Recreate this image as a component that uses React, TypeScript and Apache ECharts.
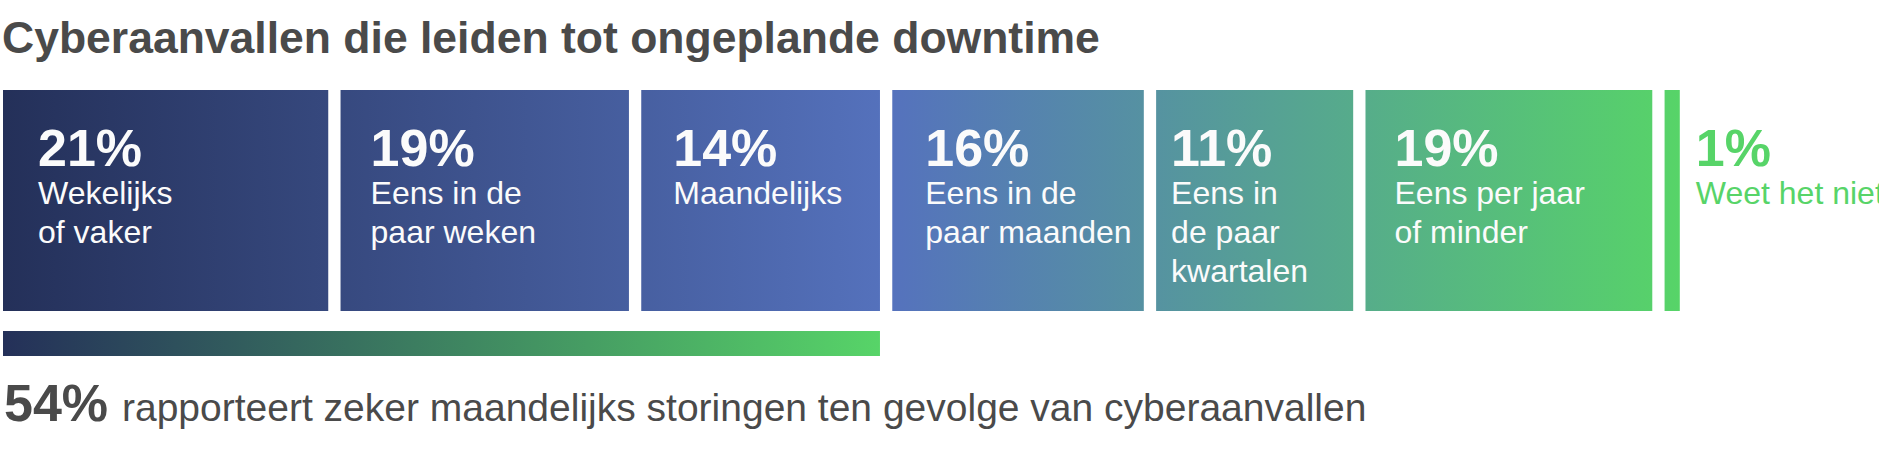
import React, { useEffect, useRef } from 'react';
import * as echarts from 'echarts';

const title = 'Cyberaanvallen die leiden tot ongeplande downtime';
const percents = [21, 19, 14, 16, 11, 19, 1];
// breedte van elk blok zoals in de afbeelding (aandeel van het geheel)
const blockShare = [20.3, 18.0, 14.9, 15.7, 12.3, 17.9, 0.95];
const labels = [
  'Wekelijks\nof vaker',
  'Eens in de\npaar weken',
  'Maandelijks',
  'Eens in de\npaar maanden',
  'Eens in\nde paar\nkwartalen',
  'Eens per jaar\nof minder',
  'Weet het niet',
];
const monthlyCount = 3; // wekelijks t/m maandelijks
const summaryText = 'rapporteert zeker maandelijks storingen ten gevolge van cyberaanvallen';

const FONT = '"Liberation Sans", Arial, Helvetica, sans-serif';
const GAP = 12.3;
const INSETS = [35, 30, 32, 33, 15, 29, 16];
const NAVY = '#243059';
const BLUE = '#5572bd';
const GREEN = '#57d468';
const GREY = '#4a4a4a';

const starts: number[] = [];
blockShare.reduce((acc, v, i) => {
  starts[i] = acc;
  return acc + v;
}, 0);
const total = blockShare.reduce((a, b) => a + b, 0);

const App = () => {
  const chartRef = useRef<HTMLDivElement>(null);

  useEffect(() => {
    if (!chartRef.current) return;
    const chart = echarts.init(chartRef.current, null, { renderer: 'svg' });

    const blocks = percents.map((p, i) => [starts[i], starts[i] + blockShare[i], p, i]);
    const monthlySum = percents.slice(0, monthlyCount).reduce((a, b) => a + b, 0);

    const option = {
      animation: false,
      title: {
        text: title,
        left: 2,
        top: 15,
        padding: 0,
        textStyle: { fontSize: 44.5, fontWeight: 'bold', color: GREY, fontFamily: FONT, lineHeight: 44 },
      },
      grid: [
        { left: 3, top: 90, width: 1603, height: 221 },
        { left: 3, top: 331, width: 1603, height: 25 },
      ],
      xAxis: [
        { gridIndex: 0, type: 'value', min: 0, max: total, show: false },
        { gridIndex: 1, type: 'value', min: 0, max: total, show: false },
      ],
      yAxis: [
        { gridIndex: 0, type: 'value', min: 0, max: 1, show: false },
        { gridIndex: 1, type: 'value', min: 0, max: 1, show: false },
      ],
      series: [
        {
          type: 'custom',
          xAxisIndex: 0,
          yAxisIndex: 0,
          data: blocks,
          encode: { x: [0, 1] },
          renderItem: (params: any, api: any) => {
            const i = params.dataIndex;
            const cs = params.coordSys;
            const x0 = api.coord([api.value(0), 0])[0] + i * GAP;
            const x1 = api.coord([api.value(1), 0])[0] + i * GAP;
            const gx0 = api.coord([0, 0])[0];
            const gx1 = api.coord([total, 0])[0] + (percents.length - 1) * GAP;
            const fill = new echarts.graphic.LinearGradient(
              gx0, 0, gx1, 0,
              [
                { offset: 0, color: NAVY },
                { offset: 0.53, color: BLUE },
                { offset: 1, color: GREEN },
              ],
              true
            );
            const last = i === percents.length - 1;
            const tx = last ? x1 + INSETS[i] : x0 + INSETS[i];
            const txtColor = last ? GREEN : '#fbfbfb';
            return {
              type: 'group',
              children: [
                { type: 'rect', shape: { x: x0, y: cs.y, width: x1 - x0, height: cs.height }, style: { fill } },
                {
                  type: 'text',
                  x: tx,
                  y: cs.y + 58,
                  style: {
                    text: api.value(2) + '%',
                    fill: txtColor,
                    font: `bold 52px ${FONT}`,
                    align: 'left',
                    verticalAlign: 'middle',
                  },
                },
                {
                  type: 'text',
                  x: tx,
                  y: cs.y + 83.7,
                  style: {
                    text: labels[i],
                    fill: txtColor,
                    font: `32px ${FONT}`,
                    lineHeight: 39,
                    align: 'left',
                    verticalAlign: 'top',
                  },
                },
              ],
            };
          },
        },
        {
          type: 'custom',
          xAxisIndex: 1,
          yAxisIndex: 1,
          data: [[0, starts[monthlyCount], monthlySum]],
          encode: { x: [0, 1] },
          renderItem: (params: any, api: any) => {
            const cs = params.coordSys;
            const x0 = api.coord([api.value(0), 0])[0];
            const x1 = api.coord([api.value(1), 0])[0] + (monthlyCount - 1) * GAP;
            return {
              type: 'rect',
              shape: { x: x0, y: cs.y, width: x1 - x0, height: cs.height },
              style: {
                fill: new echarts.graphic.LinearGradient(0, 0, 1, 0, [
                  { offset: 0, color: NAVY },
                  { offset: 1, color: GREEN },
                ]),
              },
            };
          },
        },
      ],
      graphic: [
        {
          type: 'text',
          x: 4,
          y: 403,
          style: {
            text: monthlySum + '%',
            fill: GREY,
            font: `bold 52px ${FONT}`,
            align: 'left',
            verticalAlign: 'middle',
          },
        },
        {
          type: 'text',
          x: 122,
          y: 407.5,
          style: {
            text: summaryText,
            fill: GREY,
            font: `39px ${FONT}`,
            align: 'left',
            verticalAlign: 'middle',
          },
        },
      ],
    };

    chart.setOption(option as any);
    const handleResize = () => chart.resize();
    window.addEventListener('resize', handleResize);
    return () => {
      window.removeEventListener('resize', handleResize);
      chart.dispose();
    };
  }, []);

  return (
    <div
      ref={chartRef}
      style={{ position: 'fixed', left: 0, top: 0, width: '1879px', height: '453px', background: '#ffffff' }}
    />
  );
};

export default App;
